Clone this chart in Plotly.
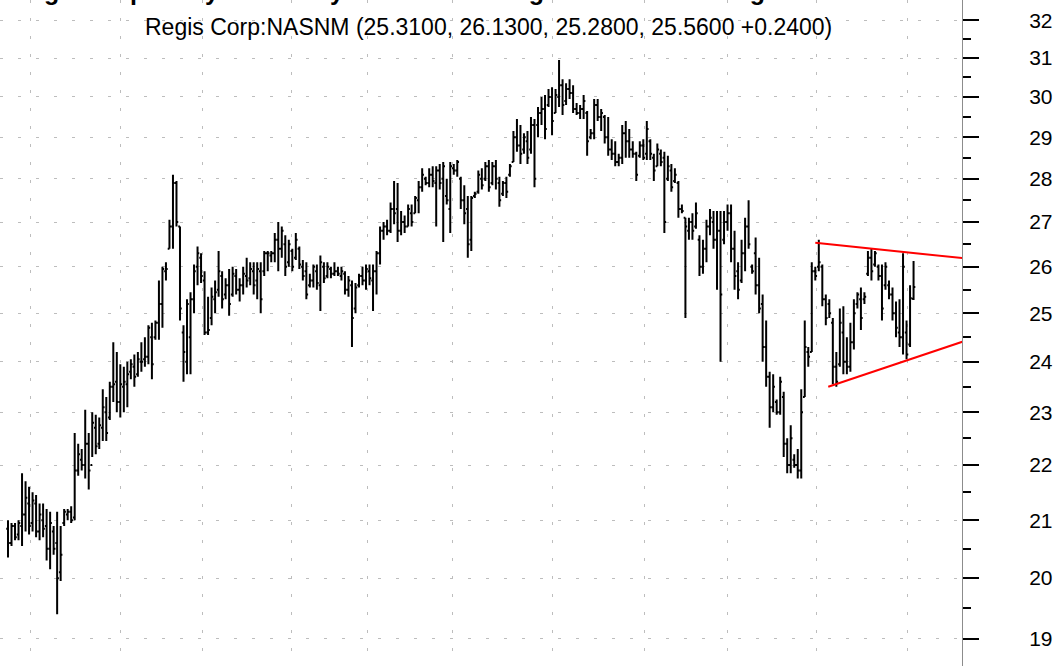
import plotly.graph_objects as go

# ---------------- data ----------------
opens = [20.85,20.6,20.9,20.75,20.9,21.1,21.3,20.95,21.3,20.8,21.0,20.9,20.5,20.8,20.6,20.1,20.95,21.1,21.15,21.05,
         21.9,22.1,22.0,22.4,22.0,22.7,22.4,22.7,23.0,22.9,23.5,23.6,23.2,23.5,23.55,23.8,23.9,23.75,24.0,24.05,
         24.1,24.5,24.5,24.8,25.2,25.9,26.4,26.9,27.9,26.9,24.6,24.0,24.5,25.3,26.0,26.2,25.7,24.6,24.9,25.3,
         25.5,25.8,25.4,25.6,25.4,25.8,25.5,25.6,25.8,25.75,25.9,25.7,25.9,25.9,26.3,26.25,26.3,26.6,26.4,26.5,
         26.1,26.35,26.2,26.4,26.0,25.9,25.6,25.7,25.9,25.6,26.0,25.8,25.95,25.85,25.9,25.8,25.85,25.5,25.6,25.1,
         25.6,25.8,25.7,25.9,25.7,25.9,26.3,26.8,26.9,26.8,27.3,27.3,26.8,27.0,26.9,27.2,27.2,27.5,27.8,28.0,
         27.9,28.1,27.9,28.2,28.0,27.6,27.3,28.25,28.2,28.0,27.5,27.3,26.6,27.6,27.7,28.0,28.0,28.3,27.9,28.3,
         27.9,27.65,27.9,28.1,28.4,29.0,28.8,28.7,28.9,28.7,29.3,29.3,29.6,29.7,29.8,30.0,29.6,30.0,30.3,29.9,
         30.2,30.1,29.7,29.6,29.7,29.6,29.0,29.1,29.8,29.5,29.5,29.0,28.7,28.6,28.4,28.5,29.1,28.9,28.7,28.6,
         28.55,28.8,28.6,28.9,28.5,28.3,28.6,28.5,28.0,28.2,27.95,27.9,27.3,27.1,26.8,27.0,26.9,26.6,26.0,26.4,
         26.9,27.0,26.6,26.8,26.6,27.0,27.2,26.4,25.9,25.7,26.3,26.9,26.0,26.3,25.6,25.2,24.3,23.7,23.1,23.2,
         23.0,23.3,22.4,22.0,22.1,22.0,21.9,23.3,24.2,24.2,25.9,26.0,26.0,25.3,25.2,24.8,23.9,23.95,24.6,24.0,
         23.9,24.4,25.2,25.3,25.3,25.85,26.2,26.05,26.0,25.8,25.6,25.6,25.4,25.0,24.6,24.5,24.6,24.35,25.31]
highs = [21.0,20.95,20.95,21.0,21.85,21.7,21.6,21.5,21.45,21.3,21.3,21.2,21.15,20.9,21.15,20.9,21.2,21.2,21.25,22.6,
         22.4,22.3,23.05,22.6,23.0,22.95,22.9,23.45,23.3,23.6,24.4,24.2,23.95,23.9,24.0,24.05,24.15,24.2,24.4,24.5,
         24.75,24.8,24.85,25.7,26.0,26.1,27.05,28.1,27.95,26.9,24.75,25.3,25.45,26.05,26.45,26.3,25.9,25.35,25.55,25.7,
         26.35,25.9,25.75,25.95,26.0,25.95,25.75,26.0,26.2,26.1,26.1,26.1,26.1,26.35,26.35,26.35,26.75,27.0,26.9,26.7,
         26.6,26.4,26.75,26.45,26.15,26.1,25.85,26.05,26.05,26.25,26.1,26.1,26.0,26.1,26.0,26.0,25.9,25.8,25.7,25.65,
         25.85,26.0,26.05,26.05,26.05,26.35,26.9,27.0,27.05,27.45,27.95,27.9,27.25,27.15,27.4,27.4,27.6,27.95,28.25,28.05,
         28.25,28.3,28.3,28.35,28.4,28.0,28.4,28.35,28.45,28.05,27.85,27.6,27.6,27.7,28.2,28.25,28.4,28.45,28.4,28.45,
         28.05,27.95,28.05,28.35,29.15,29.45,29.3,29.1,29.15,29.5,29.45,29.75,30.0,30.05,30.2,30.25,30.2,30.95,30.45,30.35,
         30.45,30.3,29.85,29.8,30.05,29.65,29.2,29.95,29.95,29.7,29.55,29.5,28.95,28.9,28.6,29.3,29.4,29.2,28.9,28.65,
         28.9,28.95,29.4,28.95,28.6,28.85,28.7,28.65,28.55,28.35,28.25,27.95,27.4,27.1,27.1,27.2,27.45,26.7,26.6,27.05,
         27.3,27.25,27.25,27.25,27.25,27.4,27.4,26.8,26.1,26.6,27.1,27.5,26.05,26.65,26.2,25.4,24.85,23.8,23.75,23.25,
         23.7,23.4,22.5,22.75,22.2,22.3,23.45,24.85,24.3,26.1,26.0,26.6,26.05,25.4,25.3,24.9,24.2,25.1,25.15,24.5,
         24.8,25.3,25.45,25.55,25.45,26.35,26.4,26.35,26.05,26.05,26.1,25.7,25.55,25.25,25.3,26.3,24.85,25.6,26.13]
lows = [20.35,20.55,20.65,20.65,20.55,20.8,20.75,20.8,20.7,20.65,20.7,20.3,20.15,20.4,19.4,19.95,20.9,21.0,20.95,21.0,
        21.8,21.9,21.75,21.55,22.15,22.2,22.3,22.45,22.45,22.85,23.2,23.0,22.9,23.0,23.1,23.65,23.5,23.7,23.8,23.9,
        23.95,23.65,24.45,24.45,24.7,25.7,26.4,26.4,26.9,24.85,23.6,23.75,23.75,25.0,25.6,25.65,24.55,24.55,24.75,25.0,
        25.35,25.1,25.3,24.95,25.35,25.4,25.25,25.4,25.55,25.6,25.4,25.3,25.0,25.8,25.9,26.1,26.1,25.9,26.2,25.8,
        26.0,25.9,26.15,25.95,25.7,25.3,25.55,25.55,25.5,25.05,25.65,25.75,25.75,25.8,25.8,25.7,25.4,25.35,24.3,25.0,
        25.55,25.6,25.5,25.6,25.05,25.4,26.05,26.6,26.7,26.75,26.95,26.55,26.7,26.75,26.9,26.9,27.2,27.2,27.7,27.85,
        27.8,27.8,26.9,27.75,26.55,27.4,26.75,28.1,28.05,27.3,26.95,26.2,26.35,27.55,27.65,27.75,27.95,27.7,27.85,27.75,
        27.35,27.6,27.55,28.05,28.4,28.65,28.35,28.6,28.35,28.6,27.8,29.0,29.3,28.95,29.75,29.05,29.6,29.75,29.55,29.8,
        29.95,29.6,29.55,29.45,29.45,28.55,28.95,28.95,29.4,29.15,28.85,28.55,28.45,28.3,28.3,28.35,28.5,28.5,28.5,27.95,
        28.5,28.45,28.45,28.45,27.95,28.3,28.3,26.75,27.95,27.7,27.9,27.1,27.2,24.9,26.6,26.6,26.85,25.8,25.85,26.1,
        26.7,26.4,25.5,24.0,26.5,26.8,26.1,25.5,25.3,25.65,25.9,26.4,25.85,25.4,25.0,24.0,23.5,22.7,23.0,22.95,
        22.95,22.15,21.85,21.85,21.95,21.75,21.75,23.3,23.9,24.2,25.7,25.9,25.15,24.75,24.9,23.55,23.5,23.9,23.75,23.75,
        23.8,24.25,25.1,24.65,25.2,25.8,25.7,26.0,25.7,24.85,25.5,25.3,24.85,24.5,24.3,24.15,24.05,24.3,25.28]
closes = [20.6,20.9,20.7,20.95,21.1,21.4,20.9,21.35,20.8,21.1,20.85,20.5,20.95,20.5,20.0,20.4,21.15,21.15,21.0,21.9,
          22.2,22.0,22.4,21.9,22.8,22.35,22.75,23.1,22.6,23.5,23.55,23.2,23.55,23.6,23.75,23.95,23.7,24.05,24.0,24.1,
          24.7,23.95,24.8,25.2,25.95,25.95,26.9,27.9,27.0,25.1,24.2,25.2,25.3,25.9,26.3,25.8,24.6,24.65,25.35,25.45,
          25.9,25.3,25.6,25.2,25.85,25.5,25.6,25.85,25.7,25.95,25.6,25.95,25.3,26.3,26.3,26.3,26.6,26.4,26.8,26.0,
          26.5,26.0,26.6,26.05,25.8,25.4,25.7,26.0,25.65,26.1,25.75,26.0,25.85,25.9,25.85,25.9,25.5,25.7,24.9,25.55,
          25.8,25.7,25.95,25.75,25.9,26.3,26.8,26.9,26.8,27.3,27.2,26.8,27.0,26.9,27.3,27.0,27.55,27.8,28.1,27.9,
          28.1,27.95,28.2,27.9,28.3,27.5,28.3,28.2,28.4,27.5,27.2,26.5,27.55,27.65,28.1,27.85,28.3,27.8,28.3,28.0,
          27.5,27.9,27.7,28.3,29.0,28.8,28.6,29.0,28.5,29.3,28.0,29.6,29.7,29.2,30.0,29.4,30.05,30.3,29.8,30.2,
          30.1,29.7,29.6,29.7,29.9,28.9,29.1,29.8,29.5,29.6,29.0,28.7,28.6,28.4,28.5,29.1,28.9,28.7,28.6,28.1,
          28.8,28.5,29.2,28.6,28.2,28.7,28.4,27.0,28.3,27.8,28.1,27.3,27.25,26.9,27.0,26.8,27.2,26.0,26.4,26.9,
          27.1,26.6,26.8,25.4,27.0,27.2,26.4,25.8,25.5,26.3,26.9,26.5,25.9,25.6,25.1,24.3,23.7,23.1,23.5,23.0,
          23.6,22.4,22.0,22.5,22.0,21.9,23.0,24.3,24.1,25.9,25.8,26.1,25.3,24.9,25.0,23.9,23.6,24.8,24.0,23.9,
          24.4,25.0,25.4,24.9,25.35,26.2,25.9,26.3,25.8,25.1,26.0,25.4,25.0,24.7,24.5,26.0,24.15,25.32,25.56]

bar_idx = list(range(len(closes)))

price_ticks = list(range(19, 33))
price_minor = [v + 0.5 for v in range(19, 32)]
grid_idx = [6.55, 32.19, 55.27, 80.63, 102.56, 126.5, 154.99, 181.48, 205.13, 230.48, 256.13]

upper_idx, upper_price = [230.0, 272.0], [26.53, 26.19]
lower_idx, lower_price = [233.7, 272.0], [23.50, 24.41]

title_text = "Regis Corp:NASNM (25.3100, 26.1300, 25.2800, 25.5600 +0.2400)"
top_title = "Regis Corp. Daily Chart - Symmetrical Triangle Pattern Forming"

# ---------------- figure ----------------
W, H = 1061, 666
fig = go.Figure()
fig.add_trace(go.Ohlc(
    x=bar_idx, open=opens, high=highs, low=lows, close=closes,
    increasing=dict(line=dict(color="black", width=2)),
    decreasing=dict(line=dict(color="black", width=2)),
    tickwidth=0.5, hoverinfo="skip", showlegend=False))
fig.add_trace(go.Scatter(x=upper_idx, y=upper_price, mode="lines",
                         line=dict(color="#ff0000", width=2), hoverinfo="skip", showlegend=False))
fig.add_trace(go.Scatter(x=lower_idx, y=lower_price, mode="lines",
                         line=dict(color="#ff0000", width=2), hoverinfo="skip", showlegend=False))

fig.update_layout(
    width=W, height=H,
    margin=dict(l=0, r=99, t=0, b=0),
    paper_bgcolor="white", plot_bgcolor="white",
    font=dict(family="Liberation Sans, Arial, sans-serif", color="black"),
    showlegend=False,
    hovermode=False,
    xaxis=dict(range=[-2.28, 271.8], tickvals=grid_idx, showticklabels=False, ticks="",
               showgrid=True, gridcolor="#bdbdbd", griddash="3px,15px", gridwidth=1,
               zeroline=False, showline=False, rangeslider=dict(visible=False)),
    yaxis=dict(type="log", side="right", range=[1.26887, 1.51262],
               tickvals=price_ticks, ticktext=[str(v) for v in price_ticks],
               ticks="outside", ticklen=16, tickwidth=2, tickcolor="black",
               tickfont=dict(size=21, color="black"), ticklabelstandoff=46,
               showline=True, linecolor="#8c8c8c", linewidth=1,
               showgrid=True, gridcolor="#bdbdbd", griddash="3px,15px", gridwidth=1,
               zeroline=False,
               minor=dict(tickvals=price_minor, ticks="outside", ticklen=8, tickwidth=2,
                          tickcolor="black", showgrid=False)),
    annotations=[
        dict(text=title_text, xref="paper", yref="paper", x=488 / 962, y=1 - 27.5 / H,
             xanchor="center", yanchor="middle", showarrow=False,
             font=dict(size=23, color="black")),
        dict(text="<b>" + top_title + "</b>", xref="paper", yref="paper", x=10 / 962, y=1 - 7 / H,
             xanchor="left", yanchor="bottom", showarrow=False,
             font=dict(size=25, color="black")),
    ],
)

fig.write_html("out.html", config={"displayModeBar": False, "staticPlot": True},
               post_script="document.body.style.margin='0';document.body.style.overflow='hidden';")
